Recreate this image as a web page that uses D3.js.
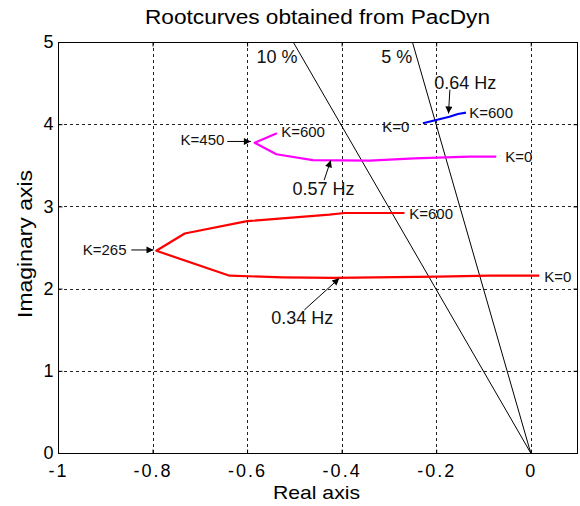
<!DOCTYPE html>
<html>
<head>
<meta charset="utf-8">
<script src="https://cdn.jsdelivr.net/npm/d3@7"></script>
<style>
  html, body { margin: 0; padding: 0; background: #fff; }
  svg { display: block; font-family: "Liberation Sans", Arial, Helvetica, sans-serif; }
</style>
</head>
<body>
<svg id="chart" width="580" height="506"></svg>
<script>
// ---- data ----
const xTicks = [-1, -0.8, -0.6, -0.4, -0.2, 0];
const yTicks = [0, 1, 2, 3, 4, 5];
const xTickLabels = ["-1", "-0.8", "-0.6", "-0.4", "-0.2", "0"];
const yTickLabels = ["0", "1", "2", "3", "4", "5"];

// red root curve (0.34 Hz), from K=0 to K=600
const redRe = [0.018, -0.087, -0.197, -0.415, -0.525, -0.637, -0.792, -0.732, -0.600, -0.426, -0.394, -0.267];
const redIm = [2.157, 2.157, 2.145, 2.130, 2.137, 2.157, 2.460, 2.670, 2.820, 2.900, 2.920, 2.920];
// magenta root curve (0.57 Hz), from K=0 to K=600
const magRe = [-0.073, -0.130, -0.246, -0.341, -0.461, -0.538, -0.584, -0.537];
const magIm = [3.605, 3.605, 3.585, 3.556, 3.564, 3.634, 3.775, 3.890];
// blue root curve (0.64 Hz), from K=0 to K=600
const bluRe = [-0.228, -0.200, -0.172, -0.154, -0.137];
const bluIm = [4.011, 4.051, 4.091, 4.124, 4.140];

// damping ratio lines
const dampZeta = [0.10, 0.05];
const dampLabels = ["10 %", "5 %"];
const dampLabelRe = [-0.580, -0.316];
const dampLabelIm = [4.82, 4.82];

// text annotations: [text, re, im, anchor, size]
const annText = ["K=265", "K=450", "K=600", "K=0", "0.57 Hz", "K=600", "K=0", "0.34 Hz", "0.64 Hz", "K=600", "K=0"];
const annRe   = [-0.855, -0.648, -0.528, -0.054, -0.504, -0.257, 0.0285, -0.549, -0.204, -0.130, -0.257];
const annIm   = [2.47, 3.81, 3.91, 3.61, 3.21, 2.91, 2.15, 1.64, 4.50, 4.14, 3.97];
const annAnchor = ["end", "end", "start", "start", "start", "start", "start", "start", "start", "start", "end"];
const annSize = [15, 15, 15, 15, 18, 15, 15, 18, 18, 15, 15];

// arrows: from (re0, im0) to (re1, im1)
const arrRe0 = [-0.845, -0.642, -0.437, -0.479, -0.171];
const arrIm0 = [2.47, 3.79, 3.32, 1.74, 4.42];
const arrRe1 = [-0.798, -0.592, -0.423, -0.405, -0.174];
const arrIm1 = [2.47, 3.79, 3.56, 2.125, 4.13];

// ---- layout ----
const svg = d3.select("#chart");
const L = 58, R = 578, T = 42, B = 453;
const x = d3.scaleLinear().domain([-1, 0.1]).range([L, R]);
const y = d3.scaleLinear().domain([0, 5]).range([B, T]);

// grid
const grid = svg.append("g").attr("stroke", "#222").attr("stroke-width", 1).attr("stroke-dasharray", "3,3");
xTicks.filter(d => d > -1).forEach(d => {
  grid.append("line").attr("x1", Math.round(x(d)) + 0.5).attr("x2", Math.round(x(d)) + 0.5).attr("y1", T).attr("y2", B);
});
yTicks.filter(d => d > 0 && d < 5).forEach(d => {
  grid.append("line").attr("y1", Math.round(y(d)) + 0.5).attr("y2", Math.round(y(d)) + 0.5).attr("x1", L).attr("x2", R);
});

// axes
const xAxis = svg.append("g").attr("transform", `translate(0,${B + 0.5})`)
  .call(d3.axisBottom(x).tickValues(xTicks).tickFormat((d, i) => xTickLabels[i]).tickSize(-4).tickPadding(11));
const xAxisTop = svg.append("g").attr("transform", `translate(0,${T + 0.5})`)
  .call(d3.axisTop(x).tickValues(xTicks).tickFormat("").tickSize(-4));
const yAxis = svg.append("g").attr("transform", `translate(${L + 0.5},0)`)
  .call(d3.axisLeft(y).tickValues(yTicks).tickFormat((d, i) => yTickLabels[i]).tickSize(-4).tickPadding(5));
const yAxisRight = svg.append("g").attr("transform", `translate(${R - 0.5},0)`)
  .call(d3.axisRight(y).tickValues(yTicks).tickFormat("").tickSize(-4));
[xAxis, xAxisTop, yAxis, yAxisRight].forEach(g => {
  g.select(".domain").remove();
  g.selectAll(".tick line").attr("stroke", "#000");
  g.selectAll("text").attr("fill", "#000").attr("font-family", "'Liberation Sans', Arial, sans-serif");
});
xAxis.selectAll("text").attr("font-size", 18).attr("letter-spacing", "2px");
yAxis.selectAll("text").attr("font-size", 18);

// frame
svg.append("rect").attr("x", L + 0.5).attr("y", T + 0.5).attr("width", R - L - 1).attr("height", B - T)
  .attr("fill", "none").attr("stroke", "#000").attr("stroke-width", 1);

// damping lines
const clip = svg.append("clipPath").attr("id", "plotclip").append("rect")
  .attr("x", L).attr("y", T).attr("width", R - L).attr("height", B - T);
dampZeta.forEach(z => {
  const reTop = -z / Math.sqrt(1 - z * z) * 5;
  svg.append("line").attr("x1", x(0)).attr("y1", y(0)).attr("x2", x(reTop)).attr("y2", y(5))
    .attr("stroke", "#000").attr("stroke-width", 1);
});
dampLabels.forEach((t, i) => {
  svg.append("text").attr("x", x(dampLabelRe[i])).attr("y", y(dampLabelIm[i])).attr("dy", "0.35em")
    .attr("font-size", 18).attr("fill", "#111").text(t);
});

// root curves
const line = d3.line().x(d => x(d[0])).y(d => y(d[1]));
const curves = [
  { re: redRe, im: redIm, color: "#ff0000" },
  { re: magRe, im: magIm, color: "#ff00ff" },
  { re: bluRe, im: bluIm, color: "#0000ff" }
];
curves.forEach(c => {
  svg.append("path").datum(c.re.map((r, i) => [r, c.im[i]]))
    .attr("d", line).attr("fill", "none").attr("stroke", c.color).attr("stroke-width", 2.2)
    .attr("stroke-linejoin", "round");
});

// arrows
svg.append("defs").append("marker").attr("id", "ah")
  .attr("viewBox", "0 0 10 10").attr("refX", 10).attr("refY", 5)
  .attr("markerWidth", 9).attr("markerHeight", 7).attr("markerUnits", "userSpaceOnUse")
  .attr("orient", "auto")
  .append("path").attr("d", "M0,0 L10,5 L0,10 Z").attr("fill", "#000");
arrRe0.forEach((r, i) => {
  svg.append("line").attr("x1", x(r)).attr("y1", y(arrIm0[i])).attr("x2", x(arrRe1[i])).attr("y2", y(arrIm1[i]))
    .attr("stroke", "#000").attr("stroke-width", 1).attr("marker-end", "url(#ah)");
});

// annotation texts
annText.forEach((t, i) => {
  svg.append("text").attr("x", x(annRe[i])).attr("y", y(annIm[i])).attr("dy", "0.35em")
    .attr("text-anchor", annAnchor[i]).attr("font-size", annSize[i]).attr("fill", "#111").text(t);
});

// title and axis labels
svg.append("text").attr("x", 317.5).attr("y", 24).attr("text-anchor", "middle")
  .attr("font-size", 20).attr("fill", "#000").attr("textLength", 345).attr("lengthAdjust", "spacingAndGlyphs")
  .text("Rootcurves obtained from PacDyn");
svg.append("text").attr("x", 316.5).attr("y", 499).attr("text-anchor", "middle")
  .attr("font-size", 19).attr("fill", "#000").attr("textLength", 87).attr("lengthAdjust", "spacingAndGlyphs")
  .text("Real axis");
svg.append("text").attr("transform", "translate(31.5,244) rotate(-90)").attr("text-anchor", "middle")
  .attr("font-size", 20).attr("fill", "#000").attr("textLength", 148).attr("lengthAdjust", "spacingAndGlyphs")
  .text("Imaginary axis");
</script>
</body>
</html>
